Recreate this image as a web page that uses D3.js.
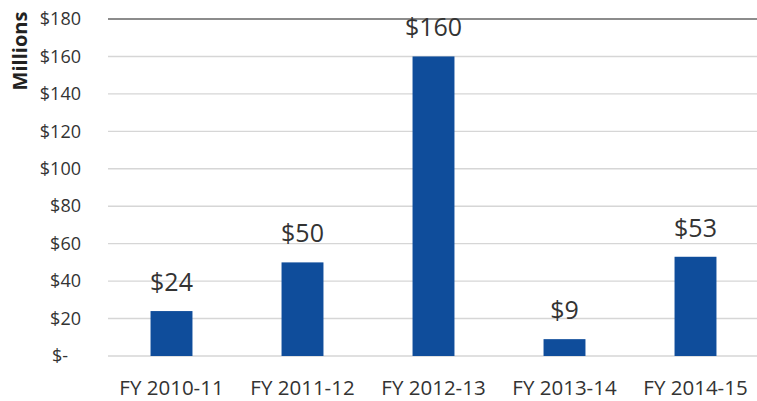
<!DOCTYPE html>
<html><head><meta charset="utf-8">
<script src="https://cdn.jsdelivr.net/npm/d3@7"></script>
<style>body{margin:0;background:#fff;}svg{display:block;}</style>
</head><body>
<script>
const categories = ["FY 2010-11","FY 2011-12","FY 2012-13","FY 2013-14","FY 2014-15"];
const values = [24, 50, 160, 9, 53];
const tickValues = [0,20,40,60,80,100,120,140,160,180];
const tickLabels = ["$-","$20","$40","$60","$80","$100","$120","$140","$160","$180"];

const W=757,H=401;
const svg=d3.select("body").append("svg").attr("width",W).attr("height",H);
const font="'Open Sans', 'Liberation Sans', sans-serif";
const y=d3.scaleLinear().domain([0,180]).range([356,19]);
const x=d3.scaleBand().domain(categories).range([106,761]).paddingInner(0.68).paddingOuter(0.34);

// gridlines
svg.append("g").selectAll("line").data(tickValues).join("line")
  .attr("x1",108).attr("x2",757)
  .attr("y1",d=>y(d)).attr("y2",d=>y(d))
  .attr("stroke",d=>d===180?"#666":"#d6d6d6").attr("stroke-width",1.4);

// y axis labels
const yAxis=d3.axisLeft(y).tickValues(tickValues).tickFormat((d,i)=>tickLabels[i]).tickSize(0).tickPadding(0);
const ga=svg.append("g").attr("transform","translate(81,0)").call(yAxis);
ga.select(".domain").remove();
ga.selectAll("text").attr("font-family",font).attr("font-size",18).attr("fill","#333")
  .attr("dx",d=>d===0?-13:0);

// bars
svg.append("g").selectAll("rect").data(values).join("rect")
  .attr("x",(d,i)=>x(categories[i])).attr("width",x.bandwidth())
  .attr("y",d=>y(d)).attr("height",d=>y(0)-y(d)).attr("fill","#0f4d9b");

// data labels
svg.append("g").selectAll("text").data(values).join("text")
  .attr("x",(d,i)=>x(categories[i])+x.bandwidth()/2)
  .attr("y",d=>y(d)-20).attr("text-anchor","middle")
  .attr("font-family",font).attr("font-size",25).attr("fill","#333")
  .text(d=>"$"+d);

// x axis labels
const xAxis=d3.axisBottom(x).tickSize(0).tickPadding(0);
const gx=svg.append("g").attr("transform","translate(0,395)").call(xAxis);
gx.select(".domain").remove();
gx.selectAll("text").attr("font-family",font).attr("font-size",20.5).attr("fill","#333").attr("dy","0");

// axis title
svg.append("text").attr("transform","translate(27,51) rotate(-90)")
  .attr("text-anchor","middle").attr("font-family",font).attr("font-weight","bold")
  .attr("font-size",20).attr("fill","#222").text("Millions");
</script>
</body></html>
